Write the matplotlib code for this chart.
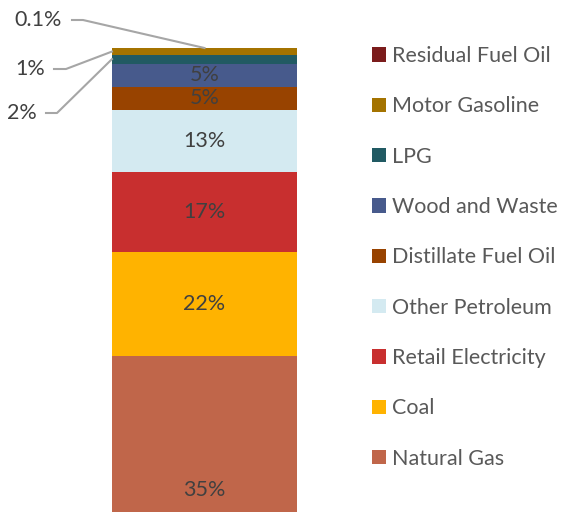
import matplotlib
matplotlib.use("Agg")
import matplotlib.pyplot as plt
from matplotlib.lines import Line2D
from matplotlib.patches import Patch

plt.rcParams['font.family'] = ['Lato', 'DejaVu Sans']

# bottom to top
fuels = ['Natural Gas', 'Coal', 'Retail Electricity', 'Other Petroleum',
         'Distillate Fuel Oil', 'Wood and Waste', 'LPG', 'Motor Gasoline',
         'Residual Fuel Oil']
shares = [34.8, 22.0, 16.9, 13.2, 4.9, 4.9, 1.9, 1.3, 0.1]
colors = ['#C0664A', '#FFB300', '#C82F2F', '#D4EAF1', '#984300',
          '#475A8C', '#215A63', '#A47300', '#7B1C1C']

W, H = 565, 512
fig = plt.figure(figsize=(W / 100, H / 100), dpi=100)
ax = fig.add_axes([112 / W, 0, 185 / W, 464 / H])

bottom = 0
mids = []
for name, v, c in zip(fuels, shares, colors):
    ax.bar(0, v, width=1, bottom=bottom, color=c, label=name)
    mids.append(bottom + v / 2)
    bottom += v

ax.set_xlim(-0.5, 0.5)
ax.set_ylim(1.7, 100)
ax.axis('off')

txt_col = '#404040'
fs = 15.5
# labels inside the bar (the big ones)
for i, v in enumerate(shares):
    if v >= 4:
        y = mids[i]
        if i == 0:
            y = ax.get_ylim()[0] + 4.6  # bar is cut at the bottom
        ax.text(0, y, f"{v:.0f}%", ha='center', va='center', fontsize=fs, color=txt_col)

# small slices with leader lines
def fig_px(x, y):
    return x / W, 1 - y / H

small = [(8, 0.0, '0.1%', (62, 20), (72, 20), (83, 20)),
         (7, -0.5, '1%', (45, 69), (54, 69), (66, 69)),
         (6, -0.5, '2%', (37, 113), (46, 113), (57, 113))]
for idx, xd, lab, tpos, p0, p1 in small:
    yd = 100 if idx == 8 else mids[idx]
    px, py = ax.transData.transform((xd, yd))
    tx, ty = fig_px(*tpos)
    fig.text(tx, ty, lab, ha='right', va='center', fontsize=fs, color=txt_col)
    xs = [p0[0] / W, p1[0] / W, px / W]
    ys = [1 - p0[1] / H, 1 - p1[1] / H, py / H]
    fig.add_artist(Line2D(xs, ys, color='#A6A6A6', lw=1.5, transform=fig.transFigure))

handles = [Patch(facecolor=c, edgecolor='none') for c in colors][::-1]
leg = fig.legend(handles, fuels[::-1], loc='upper left', bbox_to_anchor=(372 / W, 1 - 46 / H),
                 frameon=False, fontsize=fs, handlelength=0.65, handleheight=0.65,
                 handletextpad=0.28, labelspacing=1.41, borderpad=0, borderaxespad=0)
for t in leg.get_texts():
    t.set_color('#595959')

fig.savefig('out.png', dpi=100)
